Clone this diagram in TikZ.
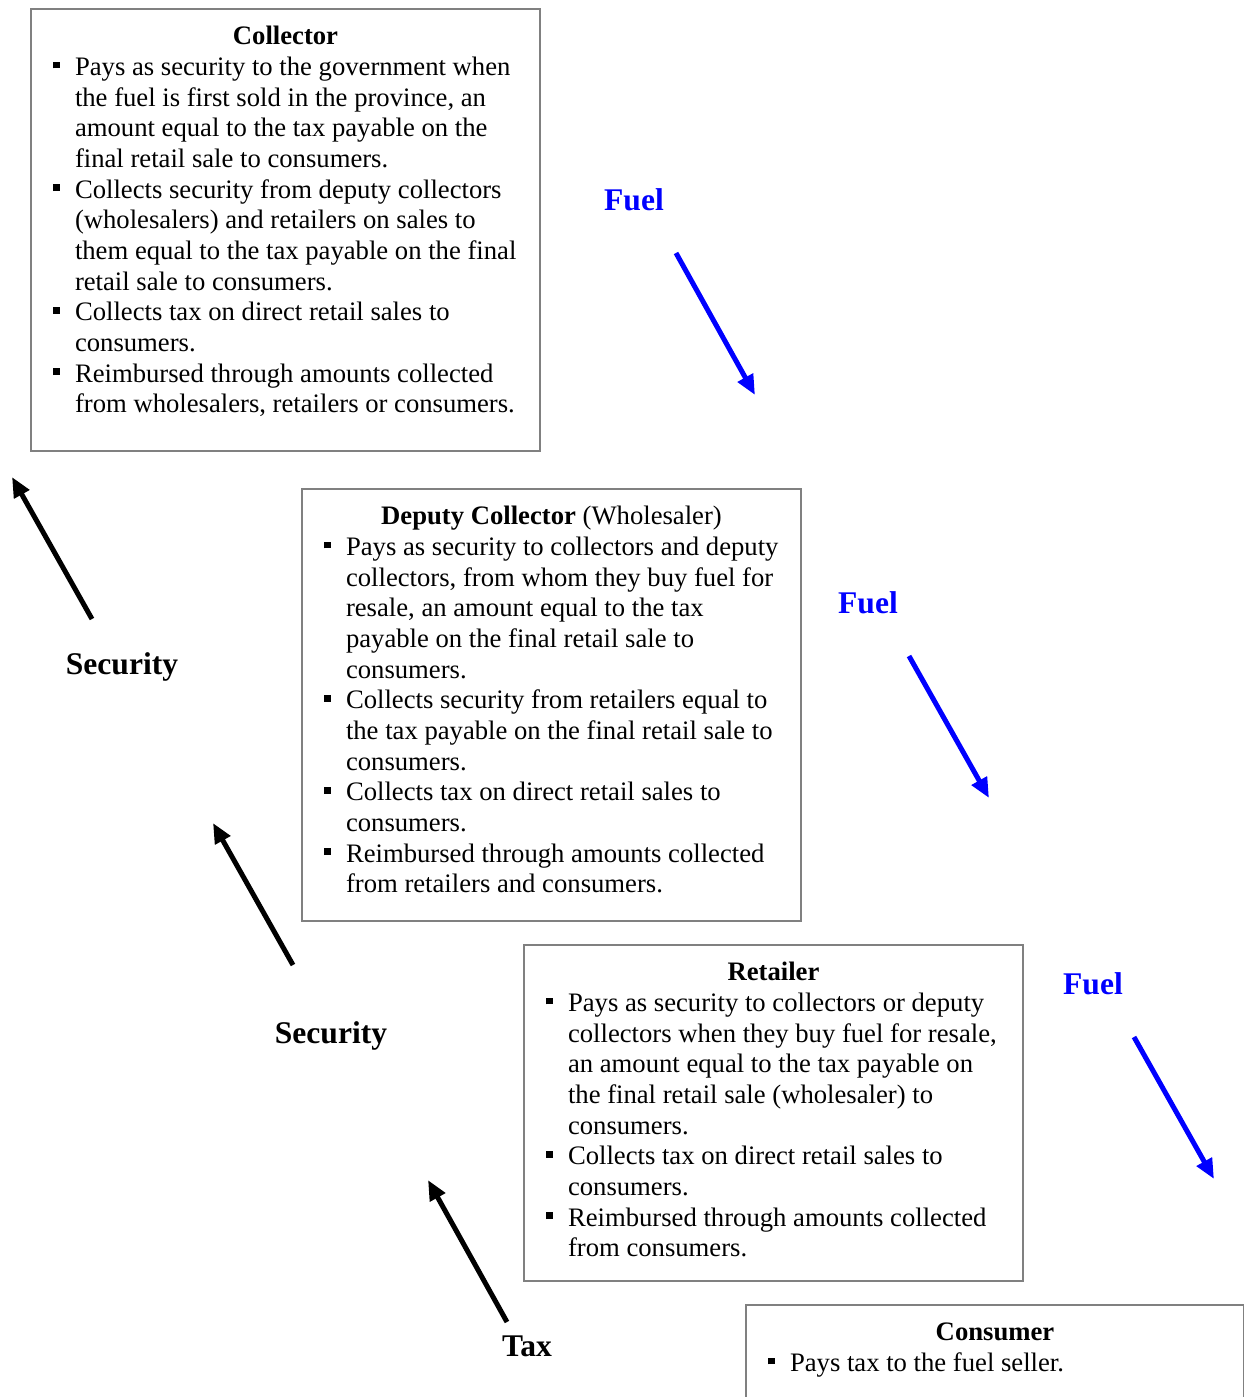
\documentclass[tikz,border=0pt]{standalone}
\usepackage{fontspec}
\setmainfont{Liberation Serif}
\usetikzlibrary{arrows.meta}

% bullet with hanging indent
\newcommand{\bul}{\par\noindent\hangindent=9.9pt\hangafter=1\makebox[9.9pt][l]{\raisebox{3.2pt}{\rule{3.1pt}{3.1pt}}}}

\begin{document}
\begin{tikzpicture}[x=0.45pt, y=-0.45pt,
    role/.style={draw=gray, line width=0.9pt, anchor=north west, inner xsep=9.9pt, inner ysep=6.5pt, font=\fontsize{12}{13.8}\selectfont},
    flow/.style={font=\fontsize{14.2}{17}\selectfont\bfseries, anchor=base},
    fuelarrow/.style={blue, line width=2.25pt, -{Triangle[length=9pt,width=7.5pt]}},
    backarrow/.style={black, line width=2.25pt, -{Triangle[length=9pt,width=7.5pt]}}]
  \useasboundingbox (0,0) rectangle (1243,1397);

  \node (collector) [role] at (30,8) {\parbox[t][185.9pt][t]{209.25pt}{\parindent=0pt
      \centerline{\strut\textbf{Collector}}
      \bul Pays as security to the government when\newline the fuel is first sold in the province, an\newline amount equal to the tax payable on the\newline final retail sale to consumers.
      \bul Collects security from deputy collectors\newline (wholesalers) and retailers on sales to\newline them equal to the tax payable on the final\newline retail sale to consumers.
      \bul Collects tax on direct retail sales to\newline consumers.
      \bul Reimbursed through amounts collected\newline from wholesalers, retailers or consumers.\par}};

  \node (deputy) [role] at (301,488) {\parbox[t][181.4pt][t]{204.75pt}{\parindent=0pt
      \centerline{\strut\textbf{Deputy Collector} (Wholesaler)}
      \bul Pays as security to collectors and deputy\newline collectors, from whom they buy fuel for\newline resale, an amount equal to the tax\newline payable on the final retail sale to\newline consumers.
      \bul Collects security from retailers equal to\newline the tax payable on the final retail sale to\newline consumers.
      \bul Collects tax on direct retail sales to\newline consumers.
      \bul Reimbursed through amounts collected\newline from retailers and consumers.\par}};

  \node (retailer) [role] at (523,944) {\parbox[t][138.2pt][t]{204.75pt}{\parindent=0pt
      \centerline{\strut\textbf{Retailer}}
      \bul Pays as security to collectors or deputy\newline collectors when they buy fuel for resale,\newline an amount equal to the tax payable on\newline the final retail sale (wholesaler) to\newline consumers.
      \bul Collects tax on direct retail sales to\newline consumers.
      \bul Reimbursed through amounts collected\newline from consumers.\par}};

  \node (consumer) [role] at (745,1304) {\parbox[t][80pt][t]{204.3pt}{\parindent=0pt
      \centerline{\strut\textbf{Consumer}}
      \bul Pays tax to the fuel seller.\par}};

  % fuel goes down
  \node (fuel1) [flow, blue] at (634,210) {Fuel};
  \node (fuel2) [flow, blue] at (868,613) {Fuel};
  \node (fuel3) [flow, blue] at (1093,994) {Fuel};
  \coordinate (f1s) at (676,253);  \coordinate (f1e) at (755,395);
  \coordinate (f2s) at (909,656);  \coordinate (f2e) at (989,798);
  \coordinate (f3s) at (1134,1037); \coordinate (f3e) at (1214,1179);
  \draw[fuelarrow] (f1s) -- (f1e);
  \draw[fuelarrow] (f2s) -- (f2e);
  \draw[fuelarrow] (f3s) -- (f3e);

  % security and tax go up
  \node (sec1) [flow] at (122,674) {Security};
  \node (sec2) [flow] at (331,1043) {Security};
  \node (tax) [flow] at (527,1356) {Tax};
  \coordinate (s1s) at (92,619);   \coordinate (s1e) at (12,477);
  \coordinate (s2s) at (293,965);  \coordinate (s2e) at (213,823);
  \coordinate (t1s) at (507,1322); \coordinate (t1e) at (428,1180);
  \draw[backarrow] (s1s) -- (s1e);
  \draw[backarrow] (s2s) -- (s2e);
  \draw[backarrow] (t1s) -- (t1e);
\end{tikzpicture}
\end{document}
